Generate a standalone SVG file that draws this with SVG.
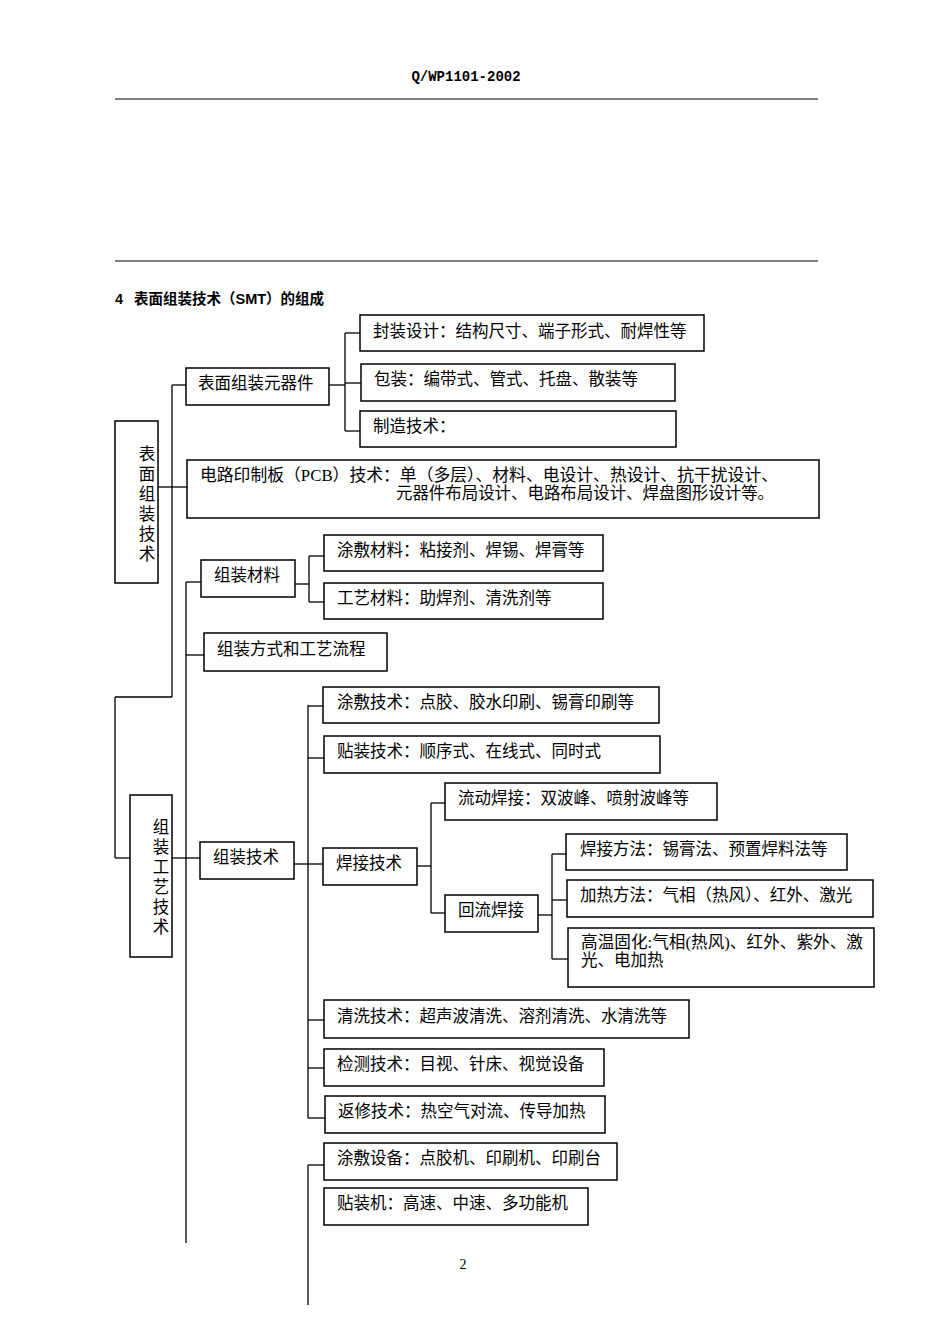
<svg xmlns="http://www.w3.org/2000/svg" width="950" height="1344" viewBox="0 0 950 1344">
<style>
rect{fill:#fff;stroke:#000;stroke-width:1.5}
.c line{stroke:#000;stroke-width:1.3}
text{font-family:"Liberation Serif","Noto Sans CJK SC",serif;font-size:16.5px;fill:#000}
.v{text-anchor:middle}
</style>
<rect width="950" height="1344" style="stroke:none"/>
<text x="466" y="81" class="v" style="font-family:'Liberation Mono',monospace;font-size:14px;font-weight:bold">Q/WP1101-2002</text>
<line x1="115" y1="99" x2="818" y2="99" stroke="#000"/>
<line x1="115" y1="261" x2="818" y2="261" stroke="#000"/>
<text x="115" y="304" style="font-weight:bold;font-size:14.5px;font-family:'Liberation Sans','Noto Sans CJK SC',sans-serif">4</text>
<text x="134" y="304" style="font-weight:bold;font-size:14.5px;font-family:'Liberation Sans','Noto Sans CJK SC',sans-serif">表面组装技术（SMT）的组成</text>
<g class="c">
<line x1="329" y1="385" x2="345" y2="385"/><line x1="345" y1="333" x2="345" y2="431"/>
<line x1="345" y1="333" x2="360" y2="333"/><line x1="345" y1="383" x2="361" y2="383"/><line x1="345" y1="431" x2="360" y2="431"/>
<line x1="172" y1="385" x2="172" y2="697"/><line x1="172" y1="385" x2="186" y2="385"/><line x1="158" y1="487" x2="187" y2="487"/>
<line x1="115" y1="697" x2="172" y2="697"/><line x1="115" y1="697" x2="115" y2="858"/><line x1="115" y1="858" x2="130" y2="858"/>
<line x1="172" y1="858" x2="200" y2="858"/>
<line x1="186" y1="582" x2="186" y2="1243"/><line x1="186" y1="582" x2="201" y2="582"/><line x1="186" y1="655" x2="204" y2="655"/>
<line x1="295" y1="584" x2="309" y2="584"/><line x1="309" y1="556" x2="309" y2="602"/><line x1="309" y1="556" x2="324" y2="556"/><line x1="309" y1="602" x2="324" y2="602"/>
<line x1="294" y1="864" x2="308" y2="864"/><line x1="308" y1="705" x2="308" y2="1118"/>
<line x1="308" y1="706" x2="323" y2="706"/><line x1="308" y1="758" x2="324" y2="758"/><line x1="308" y1="864" x2="323" y2="864"/>
<line x1="308" y1="1020" x2="324" y2="1020"/><line x1="308" y1="1068" x2="324" y2="1068"/><line x1="308" y1="1118" x2="325" y2="1118"/>
<line x1="417" y1="866" x2="431" y2="866"/><line x1="431" y1="803" x2="431" y2="913"/><line x1="431" y1="803" x2="445" y2="803"/><line x1="431" y1="913" x2="445" y2="913"/>
<line x1="538" y1="915" x2="552" y2="915"/><line x1="552" y1="854" x2="552" y2="959"/><line x1="552" y1="854" x2="566" y2="854"/><line x1="552" y1="900" x2="567" y2="900"/><line x1="552" y1="959" x2="568" y2="959"/>
<line x1="308" y1="1165" x2="308" y2="1305"/><line x1="308" y1="1165" x2="324" y2="1165"/>
</g>
<g id="n1"><rect x="115" y="421" width="43" height="162"/><text class="v" x="147" y="460">表</text><text class="v" x="147" y="480">面</text><text class="v" x="147" y="500">组</text><text class="v" x="147" y="520">装</text><text class="v" x="147" y="540">技</text><text class="v" x="147" y="560">术</text></g>
<g id="n2"><rect x="186" y="368" width="143" height="37"/><text x="198" y="389">表面组装元器件</text></g>
<g id="n3"><rect x="360" y="315" width="344" height="36"/><text x="373" y="337">封装设计：结构尺寸、端子形式、耐焊性等</text></g>
<g id="n4"><rect x="361" y="364" width="314" height="37"/><text x="374" y="385">包装：编带式、管式、托盘、散装等</text></g>
<g id="n5"><rect x="360" y="411" width="316" height="36"/><text x="373" y="432">制造技术：</text></g>
<g id="n6"><rect x="187" y="460" width="632" height="58"/><text x="200" y="481" textLength="578" lengthAdjust="spacingAndGlyphs">电路印制板（PCB）技术：单（多层）、材料、电设计、热设计、抗干扰设计、</text><text x="396" y="499" textLength="378" lengthAdjust="spacingAndGlyphs">元器件布局设计、电路布局设计、焊盘图形设计等。</text></g>
<g id="n7"><rect x="130" y="795" width="42" height="162"/><text class="v" x="161" y="833">组</text><text class="v" x="161" y="853">装</text><text class="v" x="161" y="873">工</text><text class="v" x="161" y="893">艺</text><text class="v" x="161" y="913">技</text><text class="v" x="161" y="933">术</text></g>
<g id="n8"><rect x="201" y="560" width="94" height="37"/><text x="214" y="581">组装材料</text></g>
<g id="n9"><rect x="324" y="535" width="279" height="36"/><text x="337" y="556">涂敷材料：粘接剂、焊锡、焊膏等</text></g>
<g id="n10"><rect x="324" y="583" width="279" height="36"/><text x="337" y="604">工艺材料：助焊剂、清洗剂等</text></g>
<g id="n11"><rect x="204" y="633" width="183" height="38"/><text x="217" y="655">组装方式和工艺流程</text></g>
<g id="n12"><rect x="200" y="842" width="94" height="37"/><text x="213" y="863">组装技术</text></g>
<g id="n13"><rect x="323" y="687" width="336" height="36"/><text x="337" y="708">涂敷技术：点胶、胶水印刷、锡膏印刷等</text></g>
<g id="n14"><rect x="324" y="736" width="336" height="37"/><text x="337" y="757">贴装技术：顺序式、在线式、同时式</text></g>
<g id="n15"><rect x="323" y="848" width="94" height="37"/><text x="336" y="869">焊接技术</text></g>
<g id="n16"><rect x="445" y="783" width="272" height="37"/><text x="458" y="804">流动焊接：双波峰、喷射波峰等</text></g>
<g id="n17"><rect x="445" y="895" width="93" height="37"/><text x="458" y="916">回流焊接</text></g>
<g id="n18"><rect x="566" y="834" width="281" height="36"/><text x="580" y="855">焊接方法：锡膏法、预置焊料法等</text></g>
<g id="n19"><rect x="567" y="880" width="306" height="37"/><text x="580" y="901">加热方法：气相（热风）、红外、激光</text></g>
<g id="n20"><rect x="568" y="928" width="306" height="59"/><text x="581" y="948" textLength="282" lengthAdjust="spacingAndGlyphs">高温固化:气相(热风)、红外、紫外、激</text><text x="581" y="966">光、电加热</text></g>
<g id="n21"><rect x="324" y="1000" width="365" height="38"/><text x="337" y="1022">清洗技术：超声波清洗、溶剂清洗、水清洗等</text></g>
<g id="n22"><rect x="324" y="1049" width="280" height="37"/><text x="337" y="1070">检测技术：目视、针床、视觉设备</text></g>
<g id="n23"><rect x="325" y="1096" width="280" height="37"/><text x="338" y="1117">返修技术：热空气对流、传导加热</text></g>
<g id="n24"><rect x="324" y="1143" width="293" height="37"/><text x="337" y="1164">涂敷设备：点胶机、印刷机、印刷台</text></g>
<g id="n25"><rect x="324" y="1188" width="264" height="37"/><text x="337" y="1209">贴装机：高速、中速、多功能机</text></g>
<text x="463" y="1269" class="v" style="font-size:14px">2</text>
</svg>
